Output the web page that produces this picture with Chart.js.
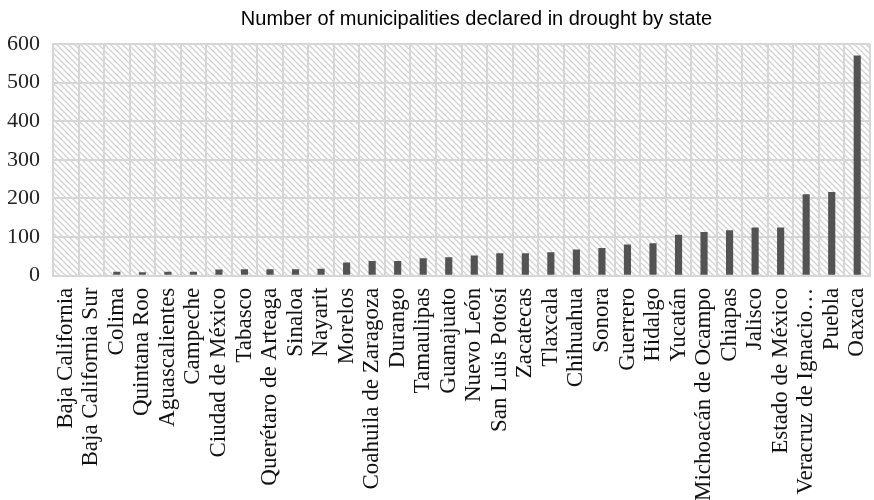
<!DOCTYPE html>
<html>
<head>
<meta charset="utf-8">
<style>
  html, body { margin: 0; padding: 0; background: #ffffff; }
  #wrap { width: 874px; height: 500px; }
</style>
<script src="https://cdn.jsdelivr.net/npm/chart.js@4/dist/chart.umd.min.js"></script>
</head>
<body>
<div id="wrap"><canvas id="chart" width="874" height="500"></canvas></div>
<script>
// States, ordered by number of municipalities declared in drought
const states = [
  "Baja California", "Baja California Sur", "Colima", "Quintana Roo",
  "Aguascalientes", "Campeche", "Ciudad de México", "Tabasco",
  "Querétaro de Arteaga", "Sinaloa", "Nayarit", "Morelos",
  "Coahuila de Zaragoza", "Durango", "Tamaulipas", "Guanajuato",
  "Nuevo León", "San Luis Potosí", "Zacatecas", "Tlaxcala",
  "Chihuahua", "Sonora", "Guerrero", "Hidalgo", "Yucatán",
  "Michoacán de Ocampo", "Chiapas", "Jalisco", "Estado de México",
  "Veracruz de Ignacio…", "Puebla", "Oaxaca"
];

const municipalities = [
  0, 0, 10, 9,
  10, 10, 16, 17,
  17, 17, 18, 34,
  38, 38, 45, 48,
  52, 58, 58, 61,
  68, 72, 81, 84, 106,
  113, 118, 125, 125,
  211, 217, 570
];

const yTicks = [0, 100, 200, 300, 400, 500, 600];

const chartTitle = "Number of municipalities declared in drought by state";

// Diagonal hatch used as the plot-area fill
function makeHatch() {
  const c = document.createElement("canvas");
  c.width = 6; c.height = 6;
  const g = c.getContext("2d");
  g.fillStyle = "#ffffff";
  g.fillRect(0, 0, 6, 6);
  g.strokeStyle = "#d2d2d2";
  g.lineWidth = 1.3;
  g.beginPath();
  g.moveTo(-1, -1); g.lineTo(7, 7);
  g.moveTo(-1, 5); g.lineTo(1, 7);
  g.moveTo(5, -1); g.lineTo(7, 1);
  g.stroke();
  return g.createPattern(c, "repeat");
}

const plotFill = {
  id: "plotFill",
  beforeDraw(chart) {
    const { ctx, chartArea: a } = chart;
    ctx.save();
    ctx.fillStyle = makeHatch();
    ctx.fillRect(a.left, a.top, a.right - a.left, a.bottom - a.top);
    ctx.restore();
  }
};

// Centre the title over the plot rather than the whole canvas
const titleShift = {
  id: "titleShift",
  afterLayout(chart) {
    const tb = chart.titleBlock;
    if (!tb) return;
    const a = chart.chartArea;
    const mid = (a.left + a.right) / 2 + 15;
    const half = (tb.right - tb.left) / 2;
    tb.left = mid - half;
    tb.right = mid + half;
  }
};

// Let the plot run to the edges; label overhang is handled by layout padding
function noOverhang(scale) {
  scale.paddingLeft = 0;
  scale.paddingRight = 0;
  scale.paddingTop = 0;
  scale.paddingBottom = 0;
}

new Chart(document.getElementById("chart"), {
  type: "bar",
  data: {
    labels: states,
    datasets: [{
      data: municipalities,
      backgroundColor: "#535353",
      borderWidth: 0,
      barPercentage: 0.28,
      categoryPercentage: 1.0
    }]
  },
  options: {
    responsive: false,
    animation: false,
    devicePixelRatio: 1,
    layout: { padding: { left: -6, right: 4, top: 0, bottom: -13 } },
    plugins: {
      legend: { display: false },
      tooltip: { enabled: false },
      title: {
        display: true,
        text: chartTitle,
        color: "#000000",
        font: { family: "'Liberation Sans Narrow', 'Liberation Sans', sans-serif", size: 20, weight: "normal" },
        padding: { top: 7, bottom: 13 }
      }
    },
    scales: {
      x: {
        afterFit: noOverhang,
        grid: { color: "#d6d6d6", lineWidth: 2, drawTicks: false, offset: true },
        border: { color: "#d6d6d6", width: 2 },
        ticks: {
          autoSkip: false,
          maxRotation: 90,
          minRotation: 90,
          padding: 12,
          color: "#111111",
          font: { family: "'Liberation Serif', 'Times New Roman', serif", size: 23 }
        }
      },
      y: {
        min: 0,
        max: 600,
        afterFit: noOverhang,
        afterBuildTicks(scale) { scale.ticks = yTicks.map(v => ({ value: v })); },
        grid: { color: "#d6d6d6", lineWidth: 2, drawTicks: false },
        border: { color: "#d6d6d6", width: 2 },
        ticks: {
          padding: 13,
          color: "#222222",
          font: { family: "'Liberation Serif', 'Times New Roman', serif", size: 22 }
        }
      }
    }
  },
  plugins: [plotFill, titleShift]
});
</script>
</body>
</html>
